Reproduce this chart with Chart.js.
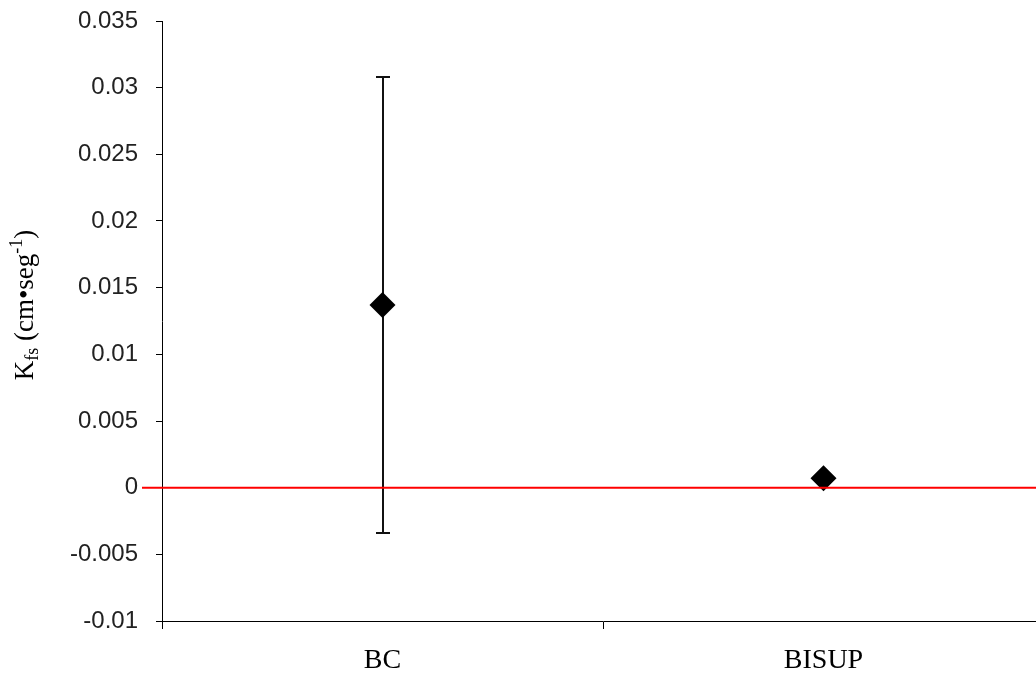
<!DOCTYPE html>
<html>
<head>
<meta charset="utf-8">
<script src="https://cdn.jsdelivr.net/npm/chart.js@4/dist/chart.umd.min.js"></script>
<style>
	html, body { margin: 0; padding: 0; background: #fff; overflow: hidden; }
</style>
</head>
<body>
<canvas id="kfsChart" width="1057" height="675"></canvas>
<script>
// data
var categories = ["BC", "BISUP"];
var kfsMeans = [0.0137, 0.0007];
var kfsErrors = [0.0171, 0.0003];
var yMin = -0.01, yMax = 0.035, yStep = 0.005;

// error bars, drawn behind the markers
var errorBars = {
	id: "errorBars",
	beforeDatasetsDraw: function(chart) {
		var ctx = chart.ctx, x = chart.scales.x, y = chart.scales.y;
		ctx.save();
		ctx.strokeStyle = "#111";
		ctx.lineWidth = 2;
		for (var i = 0; i < kfsMeans.length; i++) {
			var px = Math.round(x.getPixelForValue(i));
			var top = y.getPixelForValue(kfsMeans[i] + kfsErrors[i]);
			var bot = y.getPixelForValue(kfsMeans[i] - kfsErrors[i]);
			ctx.beginPath();
			ctx.moveTo(px, top); ctx.lineTo(px, bot);
			ctx.moveTo(px - 7, top); ctx.lineTo(px + 7, top);
			ctx.moveTo(px - 7, bot); ctx.lineTo(px + 7, bot);
			ctx.stroke();
		}
		ctx.restore();
	}
};

// red line at zero
var zeroLine = {
	id: "zeroLine",
	afterDatasetsDraw: function(chart) {
		var ctx = chart.ctx, a = chart.chartArea;
		var py = chart.scales.y.getPixelForValue(0);
		ctx.save();
		ctx.strokeStyle = "#ff0000";
		ctx.lineWidth = 2;
		ctx.beginPath();
		ctx.moveTo(a.left - 20, py); ctx.lineTo(a.right, py);
		ctx.stroke();
		ctx.restore();
	}
};

// y title with subscript and superscript
var yTitle = {
	id: "yTitle",
	afterDraw: function(chart) {
		var ctx = chart.ctx;
		var parts = [
			{ t: "K", s: 27, dy: 0 },
			{ t: "fs", s: 18, dy: 5 },
			{ t: " (cm\u2022seg", s: 27, dy: 0 },
			{ t: "-1", s: 18, dy: -11 },
			{ t: ")", s: 27, dy: 0 }
		];
		ctx.save();
		ctx.fillStyle = "#000";
		ctx.textBaseline = "alphabetic";
		var total = 0;
		parts.forEach(function(p) {
			ctx.font = p.s + "px 'Liberation Serif', serif";
			p.w = ctx.measureText(p.t).width;
			total += p.w;
		});
		ctx.translate(33, 305);
		ctx.rotate(-Math.PI / 2);
		var cx = -total / 2;
		parts.forEach(function(p) {
			ctx.font = p.s + "px 'Liberation Serif', serif";
			ctx.fillText(p.t, cx, p.dy);
			cx += p.w;
		});
		ctx.restore();
	}
};

new Chart(document.getElementById("kfsChart"), {
	type: "line",
	data: {
		labels: categories,
		datasets: [{
			label: "Kfs",
			data: kfsMeans,
			showLine: false,
			pointStyle: "rectRot",
			pointRadius: 13,
			pointHoverRadius: 13,
			backgroundColor: "#000",
			borderColor: "#000",
			borderWidth: 0
		}]
	},
	plugins: [errorBars, zeroLine, yTitle],
	options: {
		responsive: false,
		animation: false,
		layout: { padding: { top: 21, left: 0, right: 0, bottom: 0 } },
		plugins: {
			legend: { display: false },
			tooltip: { enabled: false }
		},
		scales: {
			x: {
				type: "category",
				offset: true,
				grid: {
					offset: true,
					drawOnChartArea: false,
					tickLength: 8,
					tickColor: "#000",
					tickWidth: 1
				},
				border: { color: "#000", width: 1 },
				ticks: {
					color: "#000",
					padding: 15,
					font: { family: "'Liberation Serif', serif", size: 28 }
				},
				afterFit: function(s) {
					s.height = 54;
					s.paddingLeft = 0;
					s.paddingRight = 0;
				}
			},
			y: {
				min: yMin,
				max: yMax,
				grid: {
					drawOnChartArea: false,
					tickLength: 6,
					tickColor: "#000",
					tickWidth: 1
				},
				border: { color: "#000", width: 1 },
				ticks: {
					stepSize: yStep,
					color: "#222",
					padding: 18,
					font: { family: "'Liberation Sans', sans-serif", size: 24 },
					callback: function(v) { return String(+v.toFixed(3)); }
				},
				afterFit: function(s) {
					s.width = 162;
					s.paddingTop = 0;
					s.paddingBottom = 0;
				}
			}
		}
	}
});
</script>
</body>
</html>
